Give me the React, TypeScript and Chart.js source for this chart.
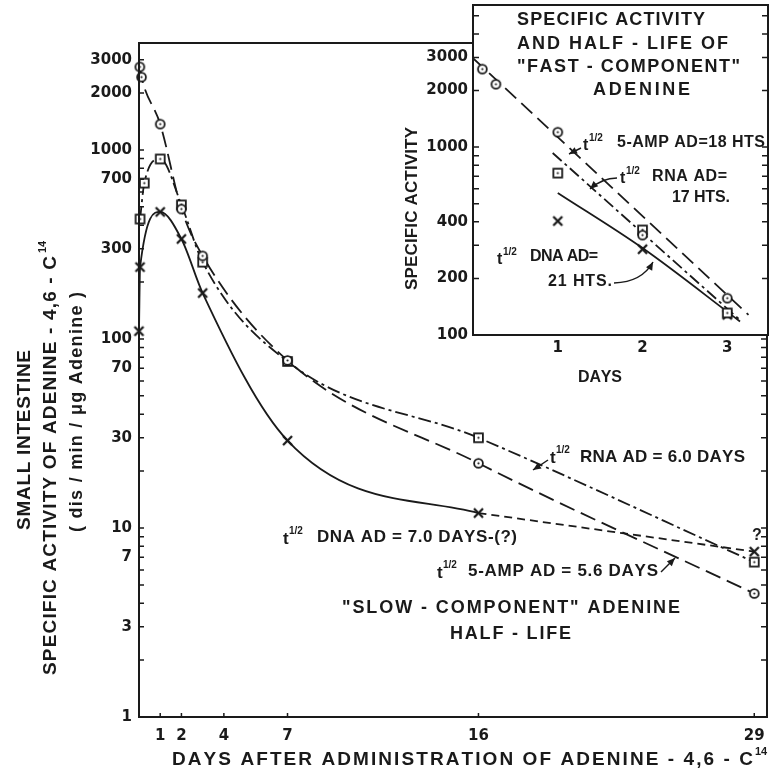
import React, { useEffect, useRef } from 'react';
import { Chart, registerables } from 'chart.js';

Chart.register(...registerables);

// ---------- main chart: specific activity (dis/min/µg adenine) vs days ----------
const ampDays = [0.04, 0.12, 1, 2, 3, 7, 16, 29];
const ampActivity = [2750, 2430, 1370, 487, 275, 77, 22, 4.5];
const rnaDays = [0.05, 0.25, 1, 2, 3, 7, 16, 29];
const rnaActivity = [431, 668, 896, 512, 255, 76, 30, 6.6];
const dnaDays = [0, 0.05, 1, 2, 3, 7, 16, 29];
const dnaActivity = [110, 240, 470, 338, 175, 29, 12, 7.5];
const dnaSolidCount = 7; // solid curve up to day 16, dashed afterwards
const mainXTicks = [1, 2, 4, 7, 16, 29];
const mainYTicks = [1, 3, 7, 10, 30, 70, 100, 300, 700, 1000, 2000, 3000];

// ---------- inset: fast component ----------
const insetAmpDays = [0.11, 0.27, 1, 2, 3];
const insetAmpActivity = [2600, 2160, 1200, 340, 157];
const insetRnaDays = [1, 2, 3];
const insetRnaActivity = [727, 362, 131];
const insetDnaDays = [1, 2, 3];
const insetDnaActivity = [404, 286, 128];
const insetAmpFitDays = [0, 3.25];
const insetAmpFitActivity = [2970, 128];
const insetRnaFitDays = [0.94, 3.15];
const insetRnaFitActivity = [930, 120];
const insetDnaFitDays = [1, 2, 3.15];
const insetDnaFitActivity = [570, 290, 118];
const insetXTicks = [1, 2, 3];
const insetYTicks = [100, 200, 400, 1000, 2000, 3000];

const INK = '#1a1a1a';
const TEXT_FAMILY = '"Liberation Sans", Arial, sans-serif';
const NUM_FAMILY = '"DejaVu Sans", sans-serif';

const zip = (xs: number[], ys: number[]) => xs.map((x, i) => ({ x, y: ys[i] }));
const tf = (size: number) => `bold ${size}px ${TEXT_FAMILY}`;

function spaced(ctx: CanvasRenderingContext2D, text: string, x0: number, x1: number, y: number, size: number) {
  ctx.font = tf(size);
  ctx.textBaseline = 'middle';
  ctx.textAlign = 'left';
  const chars = Array.from(text);
  const widths = chars.map((c) => ctx.measureText(c).width);
  const total = widths.reduce((a, b) => a + b, 0);
  const gap = chars.length > 1 ? (x1 - x0 - total) / (chars.length - 1) : 0;
  let x = x0;
  chars.forEach((c, i) => {
    ctx.fillText(c, x, y);
    x += widths[i] + gap;
  });
}

function vspaced(ctx: CanvasRenderingContext2D, text: string, x: number, yStart: number, yEnd: number, size: number) {
  ctx.save();
  ctx.translate(x, yStart);
  ctx.rotate(-Math.PI / 2);
  spaced(ctx, text, 0, yStart - yEnd, 0, size);
  ctx.restore();
}

function small(ctx: CanvasRenderingContext2D, text: string, x: number, y: number, size: number) {
  ctx.font = tf(size);
  ctx.textBaseline = 'middle';
  ctx.textAlign = 'left';
  ctx.fillText(text, x, y);
}

function tHalf(ctx: CanvasRenderingContext2D, x: number, y: number, size: number) {
  small(ctx, 't', x, y + 1, size);
  small(ctx, '1/2', x + 6, y - 7, Math.round(size * 0.6));
}

function arrow(ctx: CanvasRenderingContext2D, x1: number, y1: number, x2: number, y2: number, cx?: number, cy?: number) {
  ctx.beginPath();
  ctx.moveTo(x1, y1);
  if (cx !== undefined && cy !== undefined) ctx.quadraticCurveTo(cx, cy, x2, y2);
  else ctx.lineTo(x2, y2);
  ctx.stroke();
  const fx = cx ?? x1;
  const fy = cy ?? y1;
  const a = Math.atan2(y2 - fy, x2 - fx);
  const len = 8;
  const half = 3.5;
  ctx.beginPath();
  ctx.moveTo(x2, y2);
  ctx.lineTo(x2 - len * Math.cos(a) + half * Math.sin(a), y2 - len * Math.sin(a) - half * Math.cos(a));
  ctx.lineTo(x2 - len * Math.cos(a) - half * Math.sin(a), y2 - len * Math.sin(a) + half * Math.cos(a));
  ctx.closePath();
  ctx.fill();
}

function makeMarker(kind: 'circle' | 'square' | 'cross'): HTMLCanvasElement {
  const size = 13;
  const c = document.createElement('canvas');
  c.width = size;
  c.height = size;
  const g = c.getContext('2d') as CanvasRenderingContext2D;
  const m = size / 2;
  g.strokeStyle = INK;
  g.lineWidth = 1.8;
  if (kind === 'circle') {
    g.beginPath();
    g.arc(m, m, 4.4, 0, Math.PI * 2);
    g.fillStyle = '#fff';
    g.fill();
    g.stroke();
  } else if (kind === 'square') {
    g.fillStyle = '#fff';
    g.fillRect(m - 4.4, m - 4.4, 8.8, 8.8);
    g.strokeRect(m - 4.4, m - 4.4, 8.8, 8.8);
  } else {
    g.lineWidth = 2.3;
    g.beginPath();
    g.moveTo(m - 4.5, m - 4.5);
    g.lineTo(m + 4.5, m + 4.5);
    g.moveTo(m + 4.5, m - 4.5);
    g.lineTo(m - 4.5, m + 4.5);
    g.stroke();
  }
  if (kind !== 'cross') {
    g.fillStyle = INK;
    g.beginPath();
    g.arc(m, m, 1.1, 0, Math.PI * 2);
    g.fill();
  }
  return c;
}

function logTicks(ctx: CanvasRenderingContext2D, scale: any, left: number, right: number, lenL: number, lenR: number) {
  for (let e = 0; e <= 4; e++) {
    for (let k = 1; k <= 9; k++) {
      const v = k * Math.pow(10, e);
      if (v < scale.min || v > scale.max) continue;
      const py = scale.getPixelForValue(v);
      ctx.beginPath();
      ctx.moveTo(left, py);
      ctx.lineTo(left + lenL, py);
      ctx.moveTo(right, py);
      ctx.lineTo(right - lenR, py);
      ctx.stroke();
    }
  }
}

const noPad = (s: any) => {
  s.paddingLeft = 0;
  s.paddingRight = 0;
  s.paddingTop = 0;
  s.paddingBottom = 0;
};

const mainDecor = {
  id: 'mainDecor',
  afterDraw(chart: any) {
    const { ctx, chartArea: a, scales } = chart;
    const x = scales.x;
    const y = scales.y;
    ctx.save();
    ctx.strokeStyle = INK;
    ctx.fillStyle = INK;
    ctx.lineWidth = 2;
    ctx.strokeRect(a.left, a.top, a.right - a.left, a.bottom - a.top);
    ctx.lineWidth = 1.5;
    logTicks(ctx, y, a.left, a.right, 5, 6);
    mainXTicks.forEach((d) => {
      const px = x.getPixelForValue(d);
      ctx.beginPath();
      ctx.moveTo(px, a.bottom);
      ctx.lineTo(px, a.bottom - 4);
      ctx.stroke();
    });

    // axis titles
    vspaced(ctx, 'SMALL INTESTINE', 25, 530, 350, 19);
    vspaced(ctx, 'SPECIFIC ACTIVITY OF ADENINE - 4,6 - C', 51, 675, 256, 19);
    ctx.save();
    ctx.translate(43, 253);
    ctx.rotate(-Math.PI / 2);
    small(ctx, '14', 0, 0, 11);
    ctx.restore();
    ctx.save();
    ctx.translate(77, 532);
    ctx.rotate(-Math.PI / 2);
    spaced(ctx, '( dis / min / μg Adenine )', 0, 240, 0, 18);
    ctx.restore();
    spaced(ctx, 'DAYS AFTER ADMINISTRATION OF ADENINE - 4,6 - C', 172, 753, 760, 19);
    small(ctx, '14', 755, 752, 11);

    // annotations
    ctx.lineWidth = 1.5;
    tHalf(ctx, 550, 457, 17);
    spaced(ctx, 'RNA AD = 6.0 DAYS', 580, 745, 457, 17);
    arrow(ctx, 548, 460, 533, 470);
    tHalf(ctx, 283, 538, 17);
    spaced(ctx, 'DNA AD = 7.0 DAYS-(?)', 317, 517, 537, 17);
    tHalf(ctx, 437, 572, 17);
    spaced(ctx, '5-AMP AD = 5.6 DAYS', 468, 658, 571, 17);
    arrow(ctx, 661, 572, 675, 558);
    spaced(ctx, '"SLOW - COMPONENT" ADENINE', 342, 680, 608, 18);
    spaced(ctx, 'HALF - LIFE', 450, 571, 634, 18);
    ctx.font = tf(16);
    ctx.textAlign = 'center';
    ctx.textBaseline = 'middle';
    ctx.fillText('?', 757, 536);
    ctx.restore();
  },
};

const insetDecor = {
  id: 'insetDecor',
  beforeDraw(chart: any) {
    const { ctx, chartArea: a } = chart;
    ctx.save();
    ctx.fillStyle = '#fff';
    ctx.fillRect(a.left, a.top, a.right - a.left, a.bottom - a.top);
    ctx.restore();
  },
  afterDraw(chart: any) {
    const { ctx, chartArea: a, scales } = chart;
    ctx.save();
    ctx.strokeStyle = INK;
    ctx.fillStyle = INK;
    ctx.lineWidth = 2;
    ctx.strokeRect(a.left, a.top, a.right - a.left, a.bottom - a.top);
    ctx.lineWidth = 1.5;
    logTicks(ctx, scales.y, a.left, a.right, 6, 6);

    // title
    spaced(ctx, 'SPECIFIC ACTIVITY', 137, 325, 20, 18);
    spaced(ctx, 'AND HALF - LIFE OF', 137, 348, 44, 18);
    spaced(ctx, '"FAST - COMPONENT"', 137, 360, 67, 18);
    spaced(ctx, 'ADENINE', 213, 310, 90, 18);
    // axis titles
    vspaced(ctx, 'SPECIFIC ACTIVITY', 32, 290, 127, 17);
    spaced(ctx, 'DAYS', 198, 242, 378, 16);

    // half-life annotations
    tHalf(ctx, 203, 145, 16);
    spaced(ctx, '5-AMP AD=18 HTS', 237, 385, 143, 16);
    arrow(ctx, 201, 148, 189, 154);
    tHalf(ctx, 240, 178, 16);
    spaced(ctx, 'RNA AD=', 272, 347, 177, 16);
    spaced(ctx, '17 HTS.', 292, 350, 198, 16);
    arrow(ctx, 237, 178, 210, 189, 222, 178);
    tHalf(ctx, 117, 259, 16);
    spaced(ctx, 'DNA AD=', 150, 218, 257, 16);
    spaced(ctx, '21 HTS.', 168, 232, 282, 16);
    arrow(ctx, 234, 283, 273, 262, 262, 282);
    ctx.restore();
  },
};

export default function App() {
  const mainRef = useRef<HTMLCanvasElement>(null);
  const insetRef = useRef<HTMLCanvasElement>(null);

  useEffect(() => {
    const circle = makeMarker('circle');
    const square = makeMarker('square');
    const cross = makeMarker('cross');

    const markerSet = (data: any[], style: HTMLCanvasElement) => ({
      data,
      showLine: false,
      pointStyle: style,
      pointRadius: 5,
      clip: false as any,
    });
    const curve = (data: any[], dash: number[], monotone = true) => ({
      data,
      showLine: true,
      pointRadius: 0,
      borderColor: INK,
      borderWidth: 1.8,
      borderDash: dash,
      cubicInterpolationMode: monotone ? 'monotone' : 'default',
      tension: 0,
      fill: false,
    });

    const numFont = { family: NUM_FAMILY, size: 15, weight: 'bold' as const };

    // DNA: smooth solid curve through day 16 (last point only shapes its end tangent),
    // then a straight dashed segment to day 29
    const dnaCurve: any = curve(zip(dnaDays, dnaActivity), []);
    dnaCurve.segment = {
      borderColor: (c: any) => (c.p0DataIndex >= dnaSolidCount - 1 ? 'rgba(0,0,0,0)' : undefined),
    };
    const dnaTail = curve(
      zip(dnaDays.slice(dnaSolidCount - 1), dnaActivity.slice(dnaSolidCount - 1)),
      [8, 5],
      false,
    );

    const main = new Chart(mainRef.current as HTMLCanvasElement, {
      type: 'scatter',
      data: {
        datasets: [
          markerSet(zip(ampDays, ampActivity), circle),
          markerSet(zip(rnaDays, rnaActivity), square),
          markerSet(zip(dnaDays, dnaActivity), cross),
          curve(zip(ampDays, ampActivity), [16, 7]),
          curve(zip(rnaDays, rnaActivity), [13, 4, 3, 4]),
          dnaCurve,
          dnaTail,
        ] as any,
      },
      options: {
        responsive: false,
        animation: false,
        devicePixelRatio: 1,
        events: [],
        layout: { autoPadding: false, padding: { top: 43, right: 2, left: 0, bottom: 0 } },
        plugins: { legend: { display: false }, tooltip: { enabled: false } },
        scales: {
          x: {
            type: 'linear',
            min: 0,
            max: 29.6,
            afterBuildTicks: (s: any) => {
              s.ticks = mainXTicks.map((v) => ({ value: v }));
            },
            afterFit: (s: any) => {
              s.height = 59;
              noPad(s);
            },
            grid: { display: false, drawTicks: false },
            border: { display: false },
            ticks: { color: INK, font: numFont, padding: 10, maxRotation: 0, autoSkip: false, callback: (v: any) => String(v) },
          },
          y: {
            type: 'logarithmic',
            min: 1,
            max: 3680,
            afterBuildTicks: (s: any) => {
              s.ticks = mainYTicks.map((v) => ({ value: v }));
            },
            afterFit: (s: any) => {
              s.width = 139;
              noPad(s);
            },
            grid: { display: false, drawTicks: false },
            border: { display: false },
            ticks: { color: INK, font: numFont, padding: 7, autoSkip: false, callback: (v: any) => String(v) },
          },
        },
      } as any,
      plugins: [mainDecor],
    });

    const inset = new Chart(insetRef.current as HTMLCanvasElement, {
      type: 'scatter',
      data: {
        datasets: [
          markerSet(zip(insetAmpDays, insetAmpActivity), circle),
          markerSet(zip(insetRnaDays, insetRnaActivity), square),
          markerSet(zip(insetDnaDays, insetDnaActivity), cross),
          curve(zip(insetAmpFitDays, insetAmpFitActivity), [15, 7], false),
          curve(zip(insetRnaFitDays, insetRnaFitActivity), [12, 4, 3, 4], false),
          curve(zip(insetDnaFitDays, insetDnaFitActivity), []),
        ] as any,
      },
      options: {
        responsive: false,
        animation: false,
        devicePixelRatio: 1,
        events: [],
        layout: { autoPadding: false, padding: { top: 5, right: 1, left: 0, bottom: 0 } },
        plugins: { legend: { display: false }, tooltip: { enabled: false } },
        scales: {
          x: {
            type: 'linear',
            min: 0,
            max: 3.48,
            afterBuildTicks: (s: any) => {
              s.ticks = insetXTicks.map((v) => ({ value: v }));
            },
            afterFit: (s: any) => {
              s.height = 57;
              noPad(s);
            },
            grid: { display: false, drawTicks: false },
            border: { display: false },
            ticks: { color: INK, font: numFont, padding: 4, maxRotation: 0, autoSkip: false, callback: (v: any) => String(v) },
          },
          y: {
            type: 'logarithmic',
            min: 100,
            max: 5700,
            afterBuildTicks: (s: any) => {
              s.ticks = insetYTicks.map((v) => ({ value: v }));
            },
            afterFit: (s: any) => {
              s.width = 93;
              noPad(s);
            },
            grid: { display: false, drawTicks: false },
            border: { display: false },
            ticks: { color: INK, font: numFont, padding: 5, autoSkip: false, callback: (v: any) => String(v) },
          },
        },
      } as any,
      plugins: [insetDecor],
    });

    return () => {
      main.destroy();
      inset.destroy();
    };
  }, []);

  return (
    <div style={{ position: 'absolute', left: 0, top: 0, width: 769, height: 776, background: '#fff', overflow: 'hidden' }}>
      <canvas ref={mainRef} width={769} height={776} style={{ position: 'absolute', left: 0, top: 0 }} />
      <canvas ref={insetRef} width={389} height={392} style={{ position: 'absolute', left: 380, top: 0 }} />
    </div>
  );
}
